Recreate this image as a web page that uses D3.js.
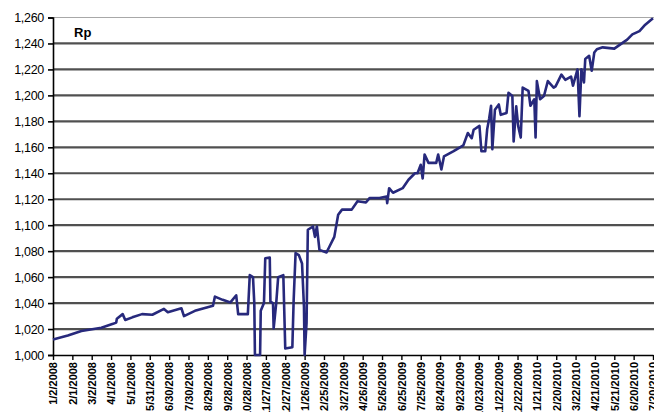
<!DOCTYPE html>
<html><head><meta charset="utf-8">
<script src="https://cdn.jsdelivr.net/npm/d3@7"></script>
<style>html,body{margin:0;padding:0;background:#fff;overflow:hidden}</style>
</head><body>
<svg id="chart" width="654" height="412"></svg>
<script>
// ---- data ----
const startDate = "2008-01-02";
const endDate = "2010-07-20";
const unitLabel = "Rp";
// day offsets from startDate for each observation
const dayOffsets = [0,23,44,75,93,98,99,108,112,123,138,154,172,178,199,203,220,248,251,263,275,284,287,302,305,310,312,313,321,322,327,329,336,337,341,342,346,349,357,360,371,373,376,381,386,389,390,393,395,403,406,409,413,424,428,436,442,448,463,472,485,491,506,517,518,521,527,542,551,561,565,570,573,576,582,594,597,602,606,621,636,643,649,652,661,664,670,673,676,679,681,685,691,694,703,706,712,714,718,721,725,728,737,740,746,748,750,755,761,767,776,779,788,794,803,806,813,816,819,823,825,831,835,839,843,852,870,880,890,898,909,918,930];
const rpValues = [1012,1015,1018.5,1021,1024,1025,1028,1031.5,1027,1029,1031.5,1031,1035.5,1033,1036,1030,1034,1038,1045,1042.5,1040.5,1046,1031.5,1031.5,1061.5,1060,1040,1000,1000,1034,1040,1074.5,1075,1041,1040,1020.5,1040,1060,1061.5,1005,1006,1042,1078.5,1077,1070.5,1037,1000,1024.5,1096.5,1099,1091,1099,1081,1079,1083,1091,1108,1112,1112,1118.5,1117.5,1121,1121,1122,1117,1128.5,1125,1128.5,1135,1140,1140,1146.5,1136,1154.5,1148,1148,1154.5,1143,1153,1157,1161.5,1171,1167,1173.5,1176.5,1157,1157,1174,1182,1192,1158.5,1189,1193,1185,1186.5,1202,1199.5,1164.5,1191.5,1176.5,1167.5,1206,1203.5,1192,1197,1167.5,1211,1197,1199.5,1211,1206,1207,1216,1212,1214.5,1207.5,1220,1184,1220,1210,1228,1230.5,1219,1233,1235.5,1237,1236,1239.5,1243,1247,1249.5,1254.5,1259.5];
const yTicks = [1000,1020,1040,1060,1080,1100,1120,1140,1160,1180,1200,1220,1240,1260];
const tickEveryDays = 30;

// ---- build ----
const parse = d3.timeParse("%Y-%m-%d");
const t0 = parse(startDate), t1 = parse(endDate);
const data = dayOffsets.map((d,i)=>({date:d3.timeDay.offset(t0,d), value:rpValues[i]}));
const xTickDates = d3.range(0, d3.timeDay.count(t0,t1)+1, tickEveryDays).map(d=>d3.timeDay.offset(t0,d));
const fmt = d => (d.getMonth()+1)+"/"+d.getDate()+"/"+d.getFullYear();

const svg = d3.select("#chart");
const m = {left:53, right:0, top:17.5, bottom:57};
const W = 654, H = 412;
const x = d3.scaleTime().domain([t0,t1]).range([m.left, W-1]);
const y = d3.scaleLinear().domain([1000,1260]).range([H-m.bottom, m.top]);

// gridlines
svg.append("g").selectAll("line").data(yTicks.slice(1)).join("line")
  .attr("x1", m.left).attr("x2", W)
  .attr("y1", d=>y(d)).attr("y2", d=>y(d))
  .attr("stroke", d=> d===1260 ? "#a8a8a8" : "#505050")
  .attr("stroke-width", d=> d===1260 ? 1.2 : 2.2);

// y axis
const ya = svg.append("g").attr("transform",`translate(${m.left},0)`)
  .call(d3.axisLeft(y).tickValues(yTicks).tickFormat(d3.format(",")).tickSize(5).tickPadding(4));
ya.select(".domain").attr("stroke","#000").attr("stroke-width",1.6);
ya.selectAll(".tick line").attr("stroke","#000").attr("stroke-width",1.6);
ya.selectAll("text").attr("font-family","'Liberation Sans', Arial, sans-serif").attr("font-size","12.5px").attr("fill","#000").attr("letter-spacing","-0.3px");

// x axis
const xa = svg.append("g").attr("transform",`translate(0,${y(1000)})`)
  .call(d3.axisBottom(x).tickValues(xTickDates).tickFormat(fmt).tickSize(5).tickSizeOuter(0));
xa.select(".domain").attr("stroke","#000").attr("stroke-width",1.6);
xa.selectAll(".tick line").attr("stroke","#000").attr("stroke-width",1.4);
xa.selectAll("text")
  .attr("font-family","'Liberation Sans', Arial, sans-serif").attr("font-size","11px").attr("font-weight","bold").attr("fill","#000")
  .attr("transform","rotate(-90)").attr("text-anchor","end").attr("dy","0.35em").attr("x",-7).attr("y",0);

// line
svg.append("path").datum(data)
  .attr("fill","none").attr("stroke","#27297c").attr("stroke-width",2.6).attr("stroke-linejoin","round")
  .attr("d", d3.line().x(d=>x(d.date)).y(d=>y(d.value)));

// unit label
svg.append("text").attr("x",74).attr("y",37).text(unitLabel)
  .attr("font-family","'Liberation Sans', Arial, sans-serif").attr("font-size","13px").attr("font-weight","bold").attr("fill","#000");
</script>
</body></html>
